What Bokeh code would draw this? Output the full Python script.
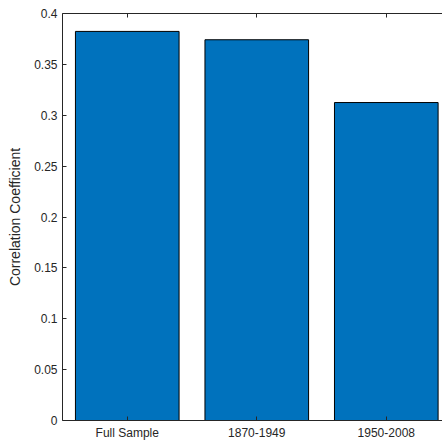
from bokeh.plotting import figure
from bokeh.models import FixedTicker, LinearAxis, CustomJSTickFormatter, Range1d, ColumnDataSource
from bokeh.embed import file_html
from bokeh.resources import INLINE

categories = ["Full Sample", "1870-1949", "1950-2008"]
values = [0.3824, 0.3742, 0.3125]
y_ticks = [0, 0.05, 0.1, 0.15, 0.2, 0.25, 0.3, 0.35, 0.4]

positions = [i + 1 for i in range(len(categories))]
src = ColumnDataSource(dict(x=positions, top=values))

FONT = "Liberation Sans"
AX = "#262626"

p = figure(width=442, height=442, output_backend="svg", toolbar_location=None,
           x_range=Range1d(0.5, 3.434), y_range=Range1d(0, 0.4),
           min_border_left=62, min_border_right=0, min_border_top=13, min_border_bottom=21)
p.outline_line_color = None
p.xgrid.visible = False
p.ygrid.visible = False
p.background_fill_color = "white"
p.border_fill_color = "white"

p.vbar(x="x", top="top", width=0.8, bottom=0, source=src,
       fill_color="#0072BD", line_color="black", line_width=1)

# bottom axis
xa = p.xaxis[0]
xa.ticker = FixedTicker(ticks=positions)
xa.major_label_overrides = {pos: c for pos, c in zip(positions, categories)}
xa.major_tick_in = 4
xa.major_tick_out = 0
xa.minor_tick_line_color = None
xa.axis_line_color = AX
xa.major_tick_line_color = AX
xa.major_label_text_font = FONT
xa.major_label_text_font_size = "12px"
xa.major_label_text_color = AX
xa.major_label_standoff = 5

# left axis
ya = p.yaxis[0]
ya.ticker = FixedTicker(ticks=y_ticks)
ya.formatter = CustomJSTickFormatter(code="return String(parseFloat(tick.toFixed(2)));")
ya.major_tick_in = 4
ya.major_tick_out = 0
ya.minor_tick_line_color = None
ya.axis_line_color = AX
ya.major_tick_line_color = AX
ya.major_label_text_font = FONT
ya.major_label_text_font_size = "12px"
ya.major_label_text_color = AX
ya.major_label_standoff = 5
ya.axis_label = "Correlation Coefficient"
ya.axis_label_text_font = FONT
ya.axis_label_text_font_size = "14px"
ya.axis_label_text_font_style = "normal"
ya.axis_label_text_color = AX
ya.axis_label_standoff = 8

# top axis (box)
ta = LinearAxis(ticker=FixedTicker(ticks=positions),
                formatter=CustomJSTickFormatter(code="return '';"),
                major_tick_in=4, major_tick_out=0, minor_tick_line_color=None,
                axis_line_color=AX, major_tick_line_color=AX, major_label_standoff=0)
p.add_layout(ta, "above")

open("out.html", "w").write(file_html(p, INLINE))
